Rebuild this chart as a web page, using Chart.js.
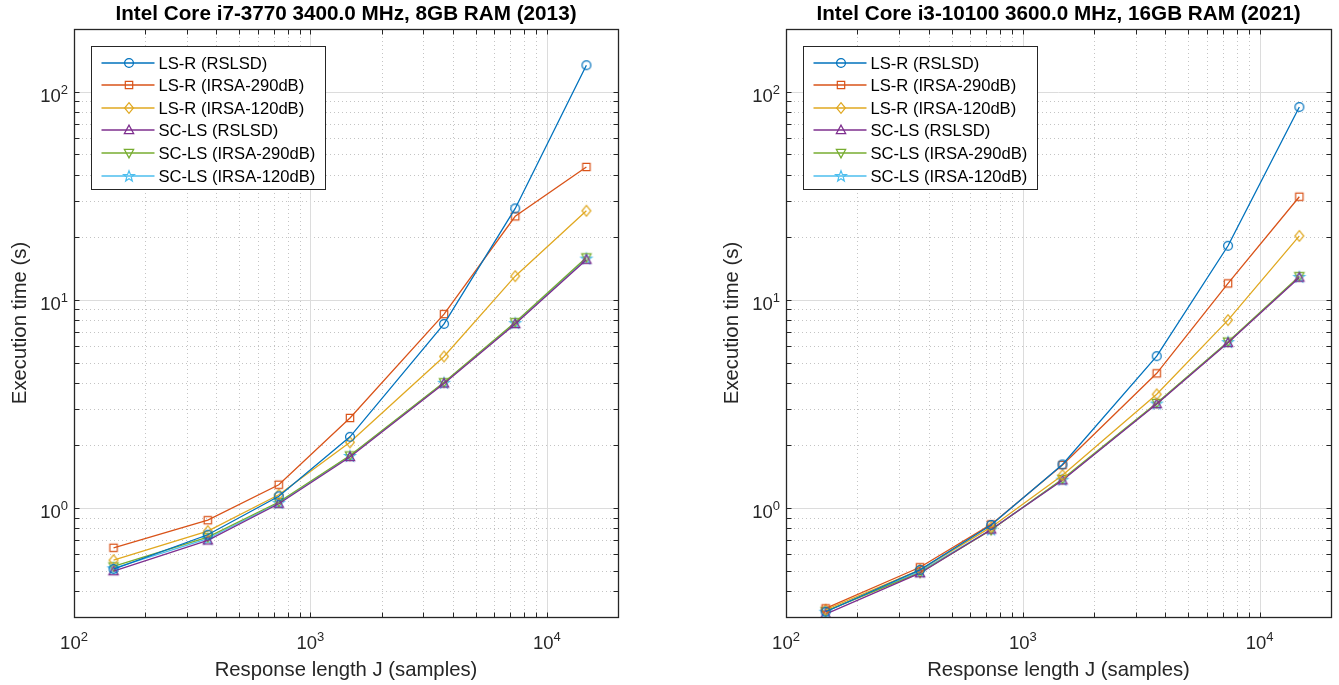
<!DOCTYPE html>
<html lang="en">
<head>
  <meta charset="UTF-8" />
  <title>Execution time vs response length</title>
  <script src="https://cdn.jsdelivr.net/npm/chart.js@4.4.0/dist/chart.umd.min.js"></script>
  <style>
    html, body { margin: 0; padding: 0; background: #fff; }
    .pane { position: absolute; top: 0; height: 685px; }
    #paneLeft { left: 0; width: 670px; }
    #paneRight { left: 670px; width: 669px; }
  </style>
</head>
<body>
  <div class="pane" id="paneLeft"><canvas id="chartLeft" width="670" height="685"></canvas></div>
  <div class="pane" id="paneRight"><canvas id="chartRight" width="669" height="685"></canvas></div>

  <script>
    // response length J (samples)
    const responseLength = [147, 368, 735, 1470, 3675, 7350, 14700];
    const seriesNames = ['LS-R (RSLSD)', 'LS-R (IRSA-290dB)', 'LS-R (IRSA-120dB)',
                         'SC-LS (RSLSD)', 'SC-LS (IRSA-290dB)', 'SC-LS (IRSA-120dB)'];

    // Intel Core i7-3770 (2013), execution time in seconds
    const i7LsrRslsd  = [0.51, 0.745, 1.14, 2.20, 7.67, 27.5, 134];
    const i7Lsr290    = [0.645, 0.875, 1.295, 2.71, 8.55, 25.2, 43.5];
    const i7Lsr120    = [0.562, 0.775, 1.16, 2.07, 5.35, 13.0, 26.8];
    const i7SclsRslsd = [0.498, 0.70, 1.05, 1.76, 3.97, 7.66, 15.6];
    const i7Scls290   = [0.525, 0.725, 1.07, 1.79, 4.02, 7.82, 16.0];
    const i7Scls120   = [0.514, 0.713, 1.06, 1.78, 4.00, 7.74, 15.8];

    // Intel Core i3-10100 (2021), execution time in seconds
    const i3LsrRslsd  = [0.318, 0.505, 0.83, 1.62, 5.37, 18.2, 84.4];
    const i3Lsr290    = [0.33, 0.52, 0.835, 1.61, 4.44, 12.0, 31.3];
    const i3Lsr120    = [0.325, 0.505, 0.81, 1.44, 3.52, 8.0, 20.3];
    const i3SclsRslsd = [0.31, 0.487, 0.79, 1.36, 3.16, 6.22, 12.8];
    const i3Scls290   = [0.32, 0.49, 0.785, 1.38, 3.20, 6.30, 13.0];
    const i3Scls120   = [0.318, 0.497, 0.79, 1.37, 3.18, 6.27, 12.9];

    // axis limits and labelled decades
    const xMin = 100, xMax = 20000;
    const yMin = 0.3, yMax = 200;
    const xTickLabels = [100, 1000, 10000];
    const yTickLabels = [1, 10, 100];

    const colors = ['#0072BD', '#D95319', '#E0A820', '#7E2F8E', '#77AC30', '#4DBEEE'];
    const markerKinds = ['o', 's', 'd', '^', 'v', 'p'];
    const FONT = '"Liberation Sans", Arial, Helvetica, sans-serif';

    // MATLAB-ish open markers drawn into small canvases
    function makeMarker(kind, color) {
      const c = document.createElement('canvas');
      c.width = 16; c.height = 16;
      const g = c.getContext('2d');
      const cx = 8, cy = 8;
      g.strokeStyle = color;
      g.lineWidth = 1.2;
      g.beginPath();
      if (kind === 'o') {
        g.arc(cx, cy, 4.4, 0, Math.PI * 2);
      } else if (kind === 's') {
        g.rect(cx - 3.7, cy - 3.7, 7.4, 7.4);
      } else if (kind === 'd') {
        g.moveTo(cx, cy - 5.3); g.lineTo(cx + 4.4, cy); g.lineTo(cx, cy + 5.3); g.lineTo(cx - 4.4, cy); g.closePath();
      } else if (kind === '^') {
        g.moveTo(cx, cy - 4.9); g.lineTo(cx + 4.7, cy + 3.7); g.lineTo(cx - 4.7, cy + 3.7); g.closePath();
      } else if (kind === 'v') {
        g.moveTo(cx, cy + 4.9); g.lineTo(cx + 4.7, cy - 3.7); g.lineTo(cx - 4.7, cy - 3.7); g.closePath();
      } else {
        for (let k = 0; k < 10; k++) {
          const r = k % 2 ? 2.4 : 5.7;
          const ang = -Math.PI / 2 + k * Math.PI / 5;
          const px = cx + r * Math.cos(ang), py = cy + 0.4 + r * Math.sin(ang);
          if (k === 0) g.moveTo(px, py); else g.lineTo(px, py);
        }
        g.closePath();
      }
      g.stroke();
      return c;
    }
    const markers = colors.map((c, i) => makeMarker(markerKinds[i], c));

    function minorValues(lo, hi) {
      const out = [];
      for (let e = Math.floor(Math.log10(lo)); e <= Math.ceil(Math.log10(hi)); e++) {
        for (let k = 1; k <= 9; k++) {
          const v = +(k * Math.pow(10, e)).toPrecision(6);
          if (v > lo && v < hi) out.push({ v, major: k === 1 });
        }
      }
      return out;
    }

    function drawPow10(ctx, value, x, y, align) {
      const exp = Math.round(Math.log10(value));
      ctx.font = '18.5px ' + FONT;
      const wBase = ctx.measureText('10').width;
      ctx.font = '13px ' + FONT;
      const wExp = ctx.measureText(String(exp)).width;
      const total = wBase + wExp;
      let left = align === 'center' ? x - total / 2 : x - total;
      ctx.textAlign = 'left';
      ctx.textBaseline = 'alphabetic';
      ctx.font = '18.5px ' + FONT;
      ctx.fillText('10', left, y);
      ctx.font = '13px ' + FONT;
      ctx.fillText(String(exp), left + wBase, y - 8);
    }

    function framePlugin(titleText) {
      return {
        id: 'matlabFrame',
        beforeDatasetsDraw(chart) {
          const { ctx, chartArea: a, scales: { x, y } } = chart;
          ctx.save();
          ctx.lineWidth = 1;
          const xs = minorValues(xMin, xMax), ys = minorValues(yMin, yMax);
          // dotted minor grid
          ctx.strokeStyle = '#c4c4c4';
          ctx.setLineDash([1, 3]);
          ctx.beginPath();
          xs.filter(t => !t.major).forEach(t => {
            const px = Math.round(x.getPixelForValue(t.v)) + 0.5;
            ctx.moveTo(px, a.top); ctx.lineTo(px, a.bottom);
          });
          ys.filter(t => !t.major).forEach(t => {
            const py = Math.round(y.getPixelForValue(t.v)) + 0.5;
            ctx.moveTo(a.left, py); ctx.lineTo(a.right, py);
          });
          ctx.stroke();
          // solid major grid
          ctx.setLineDash([]);
          ctx.strokeStyle = '#dcdcdc';
          ctx.beginPath();
          xs.filter(t => t.major).forEach(t => {
            const px = Math.round(x.getPixelForValue(t.v)) + 0.5;
            ctx.moveTo(px, a.top); ctx.lineTo(px, a.bottom);
          });
          ys.filter(t => t.major).forEach(t => {
            const py = Math.round(y.getPixelForValue(t.v)) + 0.5;
            ctx.moveTo(a.left, py); ctx.lineTo(a.right, py);
          });
          ctx.stroke();
          ctx.restore();
        },
        afterDatasetsDraw(chart) {
          const { ctx, chartArea: a, scales: { x, y } } = chart;
          ctx.save();
          const L = Math.round(a.left) + 0.5, R = Math.round(a.right) + 0.5;
          const T = Math.round(a.top) + 0.5, B = Math.round(a.bottom) + 0.5;
          ctx.strokeStyle = '#262626';
          ctx.lineWidth = 1;
          ctx.beginPath();
          minorValues(xMin, xMax).forEach(t => {
            const px = Math.round(x.getPixelForValue(t.v)) + 0.5;
            ctx.moveTo(px, B); ctx.lineTo(px, B - 5);
            ctx.moveTo(px, T); ctx.lineTo(px, T + 5);
          });
          minorValues(yMin, yMax).forEach(t => {
            const py = Math.round(y.getPixelForValue(t.v)) + 0.5;
            ctx.moveTo(L, py); ctx.lineTo(L + 5, py);
            ctx.moveTo(R, py); ctx.lineTo(R - 5, py);
          });
          ctx.stroke();
          ctx.lineWidth = 1.3;
          ctx.strokeRect(L, T, R - L, B - T);

          // tick labels
          ctx.fillStyle = '#262626';
          xTickLabels.forEach(v => drawPow10(ctx, v, x.getPixelForValue(v), a.bottom + 32, 'center'));
          yTickLabels.forEach(v => drawPow10(ctx, v, a.left - 6, y.getPixelForValue(v) + 10, 'right'));

          // axis titles
          ctx.font = '20.3px ' + FONT;
          ctx.textAlign = 'center';
          ctx.textBaseline = 'alphabetic';
          ctx.fillText('Response length J (samples)', (a.left + a.right) / 2, 676);
          ctx.save();
          ctx.translate(a.left - 54, (a.top + a.bottom) / 2);
          ctx.rotate(-Math.PI / 2);
          ctx.textBaseline = 'middle';
          ctx.fillText('Execution time (s)', 0, 0);
          ctx.restore();

          // title
          ctx.fillStyle = '#000';
          ctx.font = 'bold 20.7px ' + FONT;
          ctx.textAlign = 'center';
          ctx.fillText(titleText, (a.left + a.right) / 2, 20);

          // legend
          const lx = Math.round(a.left + 17) + 0.5, ly = 46.5, lw = 234, lh = 143;
          ctx.fillStyle = '#fff';
          ctx.fillRect(lx, ly, lw, lh);
          ctx.strokeStyle = '#262626';
          ctx.lineWidth = 1;
          ctx.strokeRect(lx, ly, lw, lh);
          ctx.font = '16.6px ' + FONT;
          ctx.textAlign = 'left';
          ctx.textBaseline = 'middle';
          seriesNames.forEach((name, i) => {
            const ry = Math.round(62.5 + i * 22.6);
            ctx.strokeStyle = colors[i];
            ctx.lineWidth = 1.3;
            ctx.beginPath();
            ctx.moveTo(lx + 10, ry); ctx.lineTo(lx + 63, ry);
            ctx.stroke();
            ctx.drawImage(markers[i], Math.round(lx + 37 - 8), ry - 8);
            ctx.fillStyle = '#000';
            ctx.fillText(name, lx + 67, ry + 1);
          });
          ctx.restore();
        }
      };
    }

    function makeChart(canvasId, titleText, seriesList, axisLeft, padRight) {
      const datasets = seriesList.map((vals, i) => ({
        label: seriesNames[i],
        data: responseLength.map((j, k) => ({ x: j, y: vals[k] })),
        borderColor: colors[i],
        backgroundColor: 'transparent',
        borderWidth: 1.3,
        pointStyle: markers[i],
        pointRadius: 5,
        tension: 0
      }));
      return new Chart(document.getElementById(canvasId), {
        type: 'line',
        data: { datasets },
        options: {
          responsive: false,
          animation: false,
          events: [],
          layout: { padding: { top: 29, right: padRight, left: 0, bottom: 0 } },
          plugins: { legend: { display: false }, tooltip: { enabled: false } },
          scales: {
            x: {
              type: 'logarithmic', min: xMin, max: xMax,
              ticks: { display: false }, grid: { display: false }, border: { display: false },
              afterFit: s => { s.height = 68; }
            },
            y: {
              type: 'logarithmic', min: yMin, max: yMax,
              ticks: { display: false }, grid: { display: false }, border: { display: false },
              afterFit: s => { s.width = axisLeft; }
            }
          }
        },
        plugins: [framePlugin(titleText)]
      });
    }

    makeChart('chartLeft', 'Intel Core i7-3770 3400.0 MHz, 8GB RAM (2013)',
      [i7LsrRslsd, i7Lsr290, i7Lsr120, i7SclsRslsd, i7Scls290, i7Scls120], 74, 52);
    makeChart('chartRight', 'Intel Core i3-10100 3600.0 MHz, 16GB RAM (2021)',
      [i3LsrRslsd, i3Lsr290, i3Lsr120, i3SclsRslsd, i3Scls290, i3Scls120], 116, 8);
  </script>
</body>
</html>
